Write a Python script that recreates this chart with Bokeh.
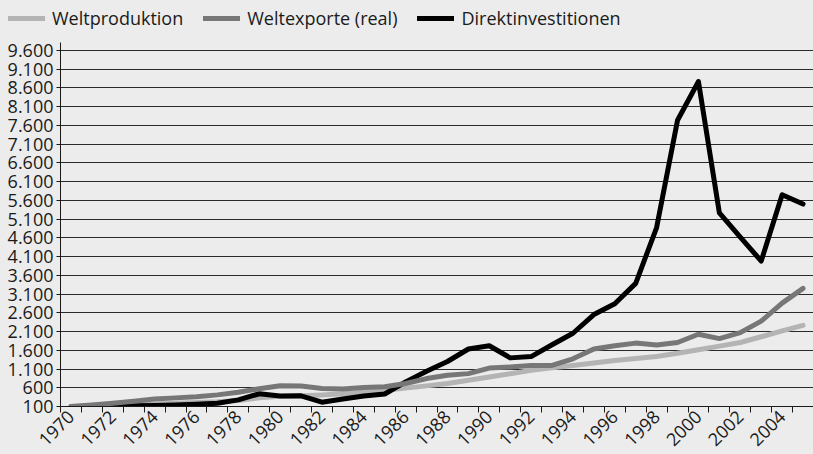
import math
from bokeh.plotting import figure
from bokeh.layouts import column
from bokeh.models import Range1d, FixedTicker, Legend, LegendItem
from bokeh.embed import file_html
from bokeh.resources import INLINE

# ---- data (index values) ----
years = list(range(1970, 2006))
weltproduktion = [100, 115, 130, 150, 170, 185, 205, 225, 260, 330, 370, 390,
                  410, 440, 480, 530, 590, 650, 714, 800, 888, 975, 1064, 1130,
                  1195, 1260, 1327, 1380, 1432, 1520, 1616, 1710, 1808, 1960, 2115, 2264]
weltexporte = [100, 140, 189, 240, 302, 330, 363, 410, 478, 575, 652, 644,
               583, 565, 609, 626, 714, 845, 933, 977, 1124, 1151, 1195, 1195,
               1371, 1634, 1721, 1791, 1739, 1808, 2028, 1912, 2070, 2377, 2858, 3252]
direktinvestitionen = [95, 95, 105, 120, 130, 140, 160, 185, 276, 440, 380, 385,
                       215, 302, 380, 433, 757, 1038, 1300, 1634, 1721, 1397, 1432, 1747,
                       2054, 2553, 2842, 3384, 4873, 7736, 8768, 5267, 4620, 3980, 5750, 5500]

series_names = ["Weltproduktion", "Weltexporte (real)", "Direktinvestitionen"]
series_colors = ["#b4b4b4", "#777777", "#000000"]
y_ticks = [100, 600, 1100, 1600, 2100, 2600, 3100, 3600, 4100, 4600,
           5100, 5600, 6100, 6600, 7100, 7600, 8100, 8600, 9100, 9600]
y_tick_labels = ["100", "600", "1.100", "1.600", "2.100", "2.600", "3.100", "3.600",
                 "4.100", "4.600", "5.100", "5.600", "6.100", "6.600", "7.100",
                 "7.600", "8.100", "8.600", "9.100", "9.600"]
x_label_years = years[::2]

FONT = "Open Sans"
FS = "18px"
BG = "#ececec"
INK = "#1a1a1a"
LW = 5

# ---------- main chart ----------
p = figure(width=813, height=424, output_backend="svg", toolbar_location=None,
           x_range=Range1d(1969.5, 2005.5), y_range=Range1d(100, 9810),
           min_border_left=60, min_border_right=0, min_border_top=12, min_border_bottom=0,
           background_fill_color=BG, border_fill_color=BG, outline_line_color=None)

p.line(years, weltproduktion, line_color=series_colors[0], line_width=LW,
       line_cap="round", line_join="round")
p.line(years, direktinvestitionen, line_color=series_colors[2], line_width=LW,
       line_cap="round", line_join="round")
p.line(years, weltexporte, line_color=series_colors[1], line_width=LW,
       line_cap="round", line_join="round")

# y axis
yt = FixedTicker(ticks=y_ticks)
p.yaxis.ticker = yt
p.yaxis.major_label_overrides = dict(zip(y_ticks, y_tick_labels))
p.yaxis.major_tick_in = 0
p.yaxis.major_tick_out = 4
p.yaxis.minor_tick_line_color = None
p.yaxis.major_label_standoff = 3
p.ygrid.ticker = yt
p.ygrid.grid_line_color = "#2a2a2a"
p.ygrid.grid_line_width = 1
p.xgrid.visible = False

# x axis
p.xaxis.ticker = FixedTicker(ticks=x_label_years,
                             minor_ticks=[y - 0.5 for y in years] + [years[-1] + 0.5])
p.xaxis.major_tick_in = 0
p.xaxis.major_tick_out = 0
p.xaxis.minor_tick_in = 0
p.xaxis.minor_tick_out = 6
p.xaxis.minor_tick_line_color = INK
p.xaxis.major_label_orientation = math.pi / 4
p.xaxis.major_label_standoff = 1

for ax in (p.xaxis, p.yaxis):
    ax.axis_line_color = INK
    ax.axis_line_width = 1
    ax.major_tick_line_color = INK
    ax.major_label_text_font = FONT
    ax.major_label_text_font_size = FS
    ax.major_label_text_color = INK

# ---------- legend strip (same series, drawn outside its own visible range) ----------
lg = figure(width=813, height=30, output_backend="svg", toolbar_location=None,
            x_range=Range1d(0, 1), y_range=Range1d(0, 1),
            x_axis_location=None, y_axis_location=None,
            min_border_left=0, min_border_right=0, min_border_top=0, min_border_bottom=0,
            background_fill_color=BG, border_fill_color=BG, outline_line_color=None)
lg.grid.visible = False
lr = [lg.line(years, s, line_color=c, line_width=LW, line_cap="round")
      for s, c in zip([weltproduktion, weltexporte, direktinvestitionen], series_colors)]

legend = Legend(items=[LegendItem(label=n, renderers=[r]) for n, r in zip(series_names, lr)],
                orientation="horizontal", location=(8, 0.5),
                glyph_width=37, glyph_height=20, label_standoff=7, spacing=20,
                padding=0, margin=0, background_fill_alpha=0, border_line_color=None,
                label_text_font=FONT, label_text_font_size=FS, label_text_color=INK)
lg.add_layout(legend, "center")

# keep the legend strip's frame independent of the chart's frame
for fig in (lg, p):
    try:
        fig.frame_align = False
    except Exception:
        pass

layout = column(lg, p, spacing=0)
html = file_html(layout, INLINE)
html = html.replace("<head>", "<head><style>html,body{background:#ececec;overflow:hidden}</style>", 1)
open("out.html", "w").write(html)
